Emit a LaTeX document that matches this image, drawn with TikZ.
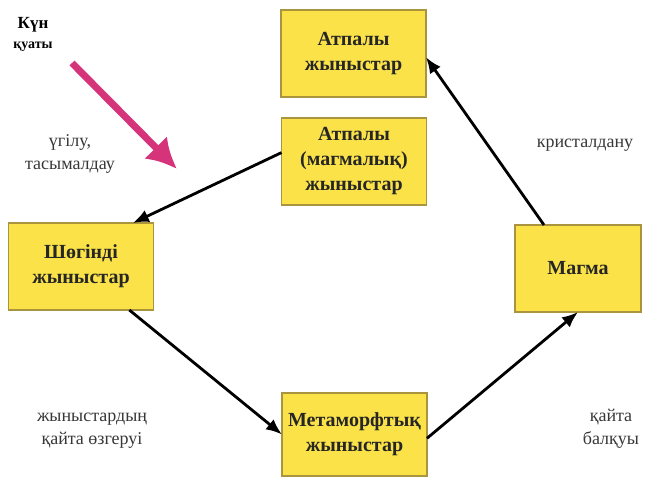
\documentclass[tikz,border=0pt]{standalone}
\usepackage{fontspec}
\setmainfont{Liberation Serif}
\usetikzlibrary{arrows.meta}
\definecolor{rockyellow}{RGB}{250,226,72}
\definecolor{rockedge}{RGB}{170,148,62}
\definecolor{sunpink}{RGB}{214,52,122}
\definecolor{labelgray}{RGB}{55,55,55}
\tikzset{%
  >={Latex[width=13pt,length=16pt]},
  % Specifications for style of nodes:
            base/.style = {rectangle, draw=rockedge, line width=1.2pt,
                           fill=rockyellow, minimum height=87pt, outer sep=0pt,
                           text centered, text=black!85,
                           font=\bfseries\fontsize{20}{25}\selectfont},
        rockbox/.style = {base, minimum width=145pt},
       magmabox/.style = {base, minimum width=126pt},
      labeltext/.style = {text=labelgray, font=\fontsize{18}{23}\selectfont},
}

\begin{document}
\begin{tikzpicture}[x=1pt, y=-1pt,
    every node/.style={align=center}]
  \useasboundingbox (0,0) rectangle (651,479);
  % Specification of nodes (position, etc.)

  \node (igneous)     [rockbox] at (353.5,53.5) {Атпалы\\жыныстар};
  \node (magmatic)    [rockbox] at (354,161.5) {Атпалы\\(магмалық)\\жыныстар};
  \node (sedimentary) [rockbox] at (81,266.5) {Шөгінді\\жыныстар};
  \node (magma)       [magmabox] at (578,268.5) {Магма};
  \node (metamorphic) [rockbox, minimum height=83pt] at (354.5,434.5) {Метаморфтық\\жыныстар};

  \node (sun)         [font=\bfseries\fontsize{17}{20}\selectfont] at (33,34) {Күн\\{\fontsize{14}{17}\selectfont қуаты}};
  \node (weathering)  [labeltext] at (70,154) {үгілу,\\тасымалдау};
  \node (crystal)     [labeltext] at (585,145) {кристалдану};
  \node (change)      [labeltext] at (92,431) {жыныстардың\\қайта өзгеруі};
  \node (melting)     [labeltext] at (611,429) {қайта\\балқуы};

  \coordinate (sunfrom) at (72,63);
  \coordinate (sunto)   at (177,169);

  \draw[->, line width=2.8pt] (magmatic.173) -- (sedimentary.40);
  \draw[->, line width=2.8pt] (sedimentary.-42) -- (metamorphic.west);
  \draw[->, line width=2.8pt] (metamorphic.-3) -- (magma.south);
  \draw[->, line width=2.8pt] (magma.128) -- (igneous.-3);
  \draw[-{Latex[width=32pt,length=30pt]}, line width=7pt, sunpink]
                              (sunfrom) -- (sunto);

\end{tikzpicture}
\end{document}
